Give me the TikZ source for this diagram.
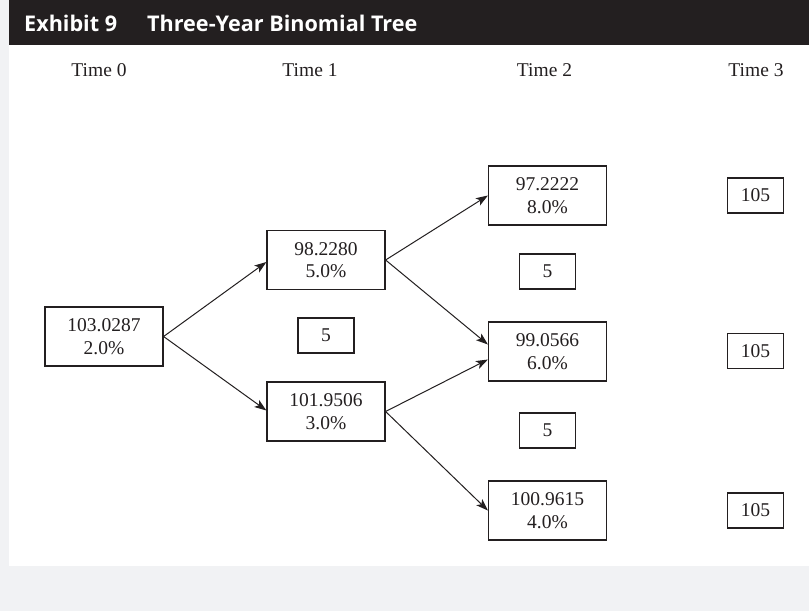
\documentclass[tikz,border=0pt]{standalone}
\usepackage{fontspec}
\setmainfont{Liberation Serif}
\newfontfamily\headfont{Open Sans}
\usetikzlibrary{arrows.meta}
\definecolor{ink}{HTML}{231F20}
\definecolor{pagegray}{HTML}{F1F2F4}
\tikzset{
  valbox/.style={draw=ink, line width=1.2pt, text=ink, minimum width=118pt, minimum height=59pt,
    inner sep=0pt, align=center, font=\fontsize{19.5}{22.4}\selectfont},
  cashbox/.style={draw=ink, line width=1.2pt, text=ink, minimum width=56pt, minimum height=35pt,
    inner sep=0pt, font=\fontsize{19.5}{22.4}\selectfont},
  timelbl/.style={text=ink, anchor=base, inner sep=0pt, font=\fontsize{19.5}{22}\selectfont},
  branch/.style={draw=ink, line width=1pt, -{Stealth[length=12pt,width=8.5pt,inset=3pt]}}
}
\begin{document}
\begin{tikzpicture}[x=1pt,y=-1pt]
  % page background, white panel and header bar
  \fill[pagegray] (0,0) rectangle (809,611);
  \useasboundingbox (0,0) rectangle (809,611);
  \fill[white] (9,45) rectangle (809,566);
  \fill[ink] (9,0) rectangle (809,45);
  \node[anchor=base west, inner sep=0pt, text=white, font=\headfont\bfseries\fontsize{21.6}{24}\selectfont]
    (title) at (24,31.7) {Exhibit 9\hspace{30pt}Three-Year Binomial Tree};

  % column headings
  \node[timelbl] (t0) at (99,76) {Time 0};
  \node[timelbl] (t1) at (310,76) {Time 1};
  \node[timelbl] (t2) at (544.5,76) {Time 2};
  \node[timelbl] (t3) at (756,76) {Time 3};

  % tree nodes: bond value and rate
  \node[valbox] (n0)  at (104,336.5) {103.0287\\2.0\%};
  \node[valbox] (n1u) at (326,260) {98.2280\\5.0\%};
  \node[valbox] (n1d) at (326,411.5) {101.9506\\3.0\%};
  \node[valbox] (n2u) at (547.5,195.5) {97.2222\\8.0\%};
  \node[valbox] (n2m) at (547.5,351.5) {99.0566\\6.0\%};
  \node[valbox] (n2d) at (547.5,510.5) {100.9615\\4.0\%};

  % coupon cash flows
  \node[cashbox] (c1)  at (326,335.5) {5};
  \node[cashbox] (c2u) at (547.5,271.5) {5};
  \node[cashbox] (c2d) at (547.5,430.5) {5};
  \node[cashbox] (m3u) at (755.5,195.5) {105};
  \node[cashbox] (m3m) at (755.5,351) {105};
  \node[cashbox] (m3d) at (755.5,510.5) {105};

  % branches
  \draw[branch] (n0.east) -- ([yshift=-2pt]n1u.west);
  \draw[branch] (n0.east) -- ([yshift=1pt]n1d.west);
  \draw[branch] (n1u.east) -- (n2u.west);
  \draw[branch] (n1u.east) -- ([yshift=7pt]n2m.west);
  \draw[branch] (n1d.east) -- ([yshift=-8pt]n2m.west);
  \draw[branch] (n1d.east) -- (n2d.west);
\end{tikzpicture}
\end{document}
